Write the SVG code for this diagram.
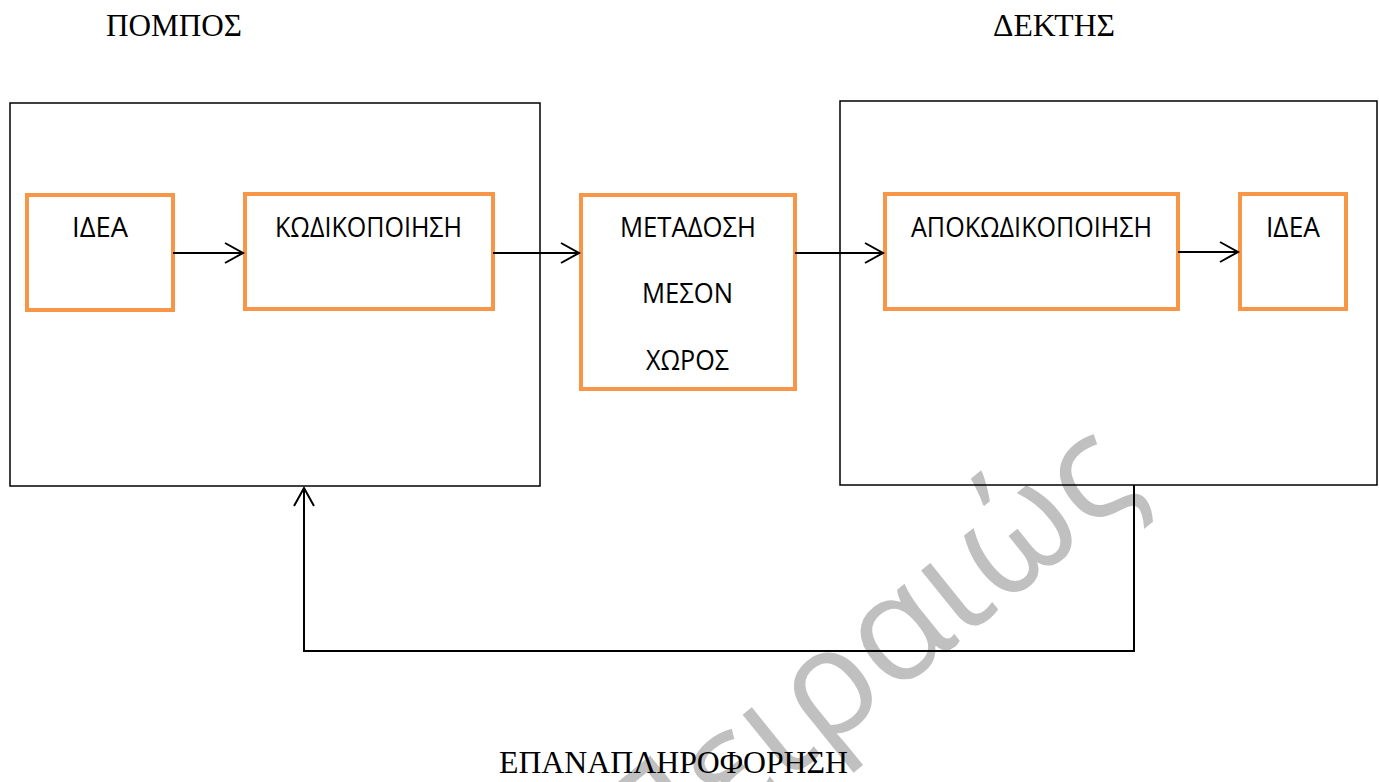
<svg xmlns="http://www.w3.org/2000/svg" width="1379" height="782" viewBox="0 0 1379 782">
<style>
.frame{fill:none;stroke:#000;stroke-width:1.5}
.ob{fill:#fff;stroke:#F79646;stroke-width:4}
.lbl{font-family:"Open Sans","Noto Sans",sans-serif;font-size:28px;fill:#000}
.ttl{font-family:"Liberation Serif","Times New Roman",serif;font-size:31.5px;fill:#000}
.conn{fill:none;stroke:#000;stroke-width:2}
.wm{font-family:"Open Sans","Noto Sans",sans-serif;font-size:148px;font-weight:400;fill:#c0c0c0}
</style>
<defs>
<marker id="arr" markerUnits="userSpaceOnUse" markerWidth="24" markerHeight="24" viewBox="0 0 24 24" refX="20" refY="12" orient="auto">
<path d="M2,2 L20,12 L2,22" fill="none" stroke="#000" stroke-width="2"/>
</marker>
</defs>
<rect width="1379" height="782" fill="#fff"/>
<g id="watermark">
<text class="wm" transform="translate(1145,491) rotate(-39)" text-anchor="end">Πειραιώς</text>
</g>
<g id="pompos">
<rect class="frame" x="10" y="103" width="530" height="383"/>
<text class="ttl" x="106" y="36" textLength="136" lengthAdjust="spacingAndGlyphs">ΠΟΜΠΟΣ</text>
</g>
<g id="dektis">
<rect class="frame" x="840" y="101" width="537" height="384"/>
<text class="ttl" x="993" y="36" textLength="122" lengthAdjust="spacingAndGlyphs">ΔΕΚΤΗΣ</text>
</g>
<g id="idea1">
<rect class="ob" x="27" y="195" width="146" height="115"/>
<text class="lbl" x="72" y="237" textLength="56" lengthAdjust="spacingAndGlyphs">ΙΔΕΑ</text>
</g>
<g id="kodikopoiisi">
<rect class="ob" x="245" y="194" width="248" height="115"/>
<text class="lbl" x="275" y="237" textLength="187" lengthAdjust="spacingAndGlyphs">ΚΩΔΙΚΟΠΟΙΗΣΗ</text>
</g>
<g id="metadosi">
<rect class="ob" x="581" y="195" width="214" height="194"/>
<text class="lbl" x="620" y="237" textLength="136" lengthAdjust="spacingAndGlyphs">ΜΕΤΑΔΟΣΗ</text>
<text class="lbl" x="642" y="303" textLength="91" lengthAdjust="spacingAndGlyphs">ΜΕΣΟΝ</text>
<text class="lbl" x="646" y="370" textLength="83" lengthAdjust="spacingAndGlyphs">ΧΩΡΟΣ</text>
</g>
<g id="apokodikopoiisi">
<rect class="ob" x="885" y="194" width="293" height="115"/>
<text class="lbl" x="911" y="237" textLength="241" lengthAdjust="spacingAndGlyphs">ΑΠΟΚΩΔΙΚΟΠΟΙΗΣΗ</text>
</g>
<g id="idea2">
<rect class="ob" x="1240" y="194" width="106" height="115"/>
<text class="lbl" x="1266" y="237" textLength="54" lengthAdjust="spacingAndGlyphs">ΙΔΕΑ</text>
</g>
<g id="connectors">
<line class="conn" x1="173" y1="253" x2="243" y2="253" marker-end="url(#arr)"/>
<line class="conn" x1="493" y1="253" x2="579" y2="253" marker-end="url(#arr)"/>
<line class="conn" x1="795" y1="253" x2="883" y2="253" marker-end="url(#arr)"/>
<line class="conn" x1="1178" y1="252" x2="1238" y2="252" marker-end="url(#arr)"/>
<polyline class="conn" points="1134,485 1134,651 304,651 304,488" marker-end="url(#arr)"/>
</g>
<g id="feedback-label">
<text class="ttl" x="499" y="773" textLength="349" lengthAdjust="spacingAndGlyphs">ΕΠΑΝΑΠΛΗΡΟΦΟΡΗΣΗ</text>
</g>
</svg>
